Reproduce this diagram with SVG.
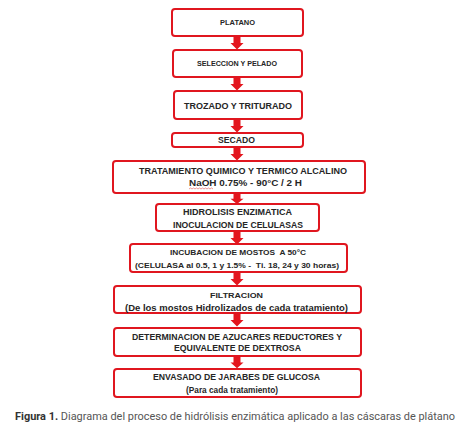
<svg xmlns="http://www.w3.org/2000/svg" xmlns:xlink="http://www.w3.org/1999/xlink" width="474" height="442" viewBox="0 0 474 442">
<style>
.box{fill:#fff;stroke:#e0161f;stroke-width:2}
.t{font-family:"Liberation Sans",Arial,sans-serif;font-weight:bold;fill:#262626;text-anchor:middle}
.arr{fill:#e3161e}
.cap{font-family:Roboto,"Liberation Sans",sans-serif;font-size:10.8px;fill:#555}
</style>
<defs>
<path id="arrow" d="M-3.5,0 H3.5 V6 H6.5 L0,12.5 L-6.5,6 H-3.5 Z"/>
</defs>
<rect width="474" height="442" fill="#fff"/>
<g id="connectors" class="arr">
<use xlink:href="#arrow" href="#arrow" transform="translate(237,37)"/>
<use xlink:href="#arrow" href="#arrow" transform="translate(237,78)"/>
<use xlink:href="#arrow" href="#arrow" transform="translate(237,120)"/>
<use xlink:href="#arrow" href="#arrow" transform="translate(237,148)"/>
<use xlink:href="#arrow" href="#arrow" transform="translate(237,194) scale(1,0.8)"/>
<use xlink:href="#arrow" href="#arrow" transform="translate(237,232)"/>
<use xlink:href="#arrow" href="#arrow" transform="translate(237,273)"/>
<use xlink:href="#arrow" href="#arrow" transform="translate(237,314)"/>
<use xlink:href="#arrow" href="#arrow" transform="translate(237,357) scale(1,0.9)"/>
</g>
<g id="platano">
<rect class="box" x="172" y="9" width="131" height="27" rx="3"/>
<text class="t" x="237.5" y="25" font-size="7.2" textLength="35" lengthAdjust="spacingAndGlyphs">PLATANO</text>
</g>
<g id="seleccion">
<rect class="box" x="173" y="50" width="129" height="27" rx="3"/>
<text class="t" x="237" y="66" font-size="7.2" textLength="80" lengthAdjust="spacingAndGlyphs">SELECCION Y PELADO</text>
</g>
<g id="trozado">
<rect class="box" x="174" y="91" width="128" height="28" rx="3"/>
<text class="t" x="238" y="108.5" font-size="9.6" textLength="108" lengthAdjust="spacingAndGlyphs">TROZADO Y TRITURADO</text>
</g>
<g id="secado">
<rect class="box" x="172" y="133" width="131" height="14" rx="3"/>
<text class="t" x="236.5" y="143.3" font-size="8.4" textLength="37" lengthAdjust="spacingAndGlyphs">SECADO</text>
</g>
<g id="tratamiento">
<rect class="box" x="113" y="161" width="252" height="32" rx="3"/>
<text class="t" x="243" y="173.8" font-size="8.6" textLength="208" lengthAdjust="spacingAndGlyphs">TRATAMIENTO QUIMICO Y TERMICO ALCALINO</text>
<text class="t" x="245.5" y="186.3" font-size="8.6" textLength="113" lengthAdjust="spacingAndGlyphs">NaOH 0.75% - 90°C / 2 H</text>
<path d="M189,189 l1.5,-1 l1.5,1 l1.5,-1 l1.5,1 l1.5,-1 l1.5,1 l1.5,-1 l1.5,1 l1.5,-1 l1.5,1 l1.5,-1 l1.5,1 l1.5,-1 l1.5,1 l1.5,-1 l1.5,1" fill="none" stroke="#e05050" stroke-width="0.6"/>
</g>
<g id="hidrolisis">
<rect class="box" x="156" y="204" width="163" height="27" rx="3"/>
<text class="t" x="237.5" y="214.8" font-size="8.2" textLength="109" lengthAdjust="spacingAndGlyphs">HIDROLISIS ENZIMATICA</text>
<text class="t" x="238" y="227.8" font-size="8.2" textLength="130" lengthAdjust="spacingAndGlyphs">INOCULACION DE CELULASAS</text>
</g>
<g id="incubacion">
<rect class="box" x="130" y="244" width="217" height="28" rx="3"/>
<text class="t" x="238" y="255.3" font-size="7.6" textLength="136" lengthAdjust="spacingAndGlyphs" xml:space="preserve">INCUBACION DE MOSTOS  A 50°C</text>
<text class="t" x="237" y="267.8" font-size="7.6" textLength="204" lengthAdjust="spacingAndGlyphs" xml:space="preserve">(CELULASA al 0.5, 1 y 1.5% -  Ti. 18, 24 y 30 horas)</text>
</g>
<g id="filtracion">
<rect class="box" x="114" y="286" width="247" height="27" rx="3"/>
<text class="t" x="236.5" y="297.8" font-size="7.8" textLength="53" lengthAdjust="spacingAndGlyphs">FILTRACION</text>
<text class="t" x="236.5" y="310.8" font-size="8.6" textLength="223" lengthAdjust="spacingAndGlyphs">(De los mostos Hidrolizados de cada tratamiento)</text>
</g>
<g id="determinacion">
<rect class="box" x="114" y="328" width="247" height="28" rx="3"/>
<text class="t" x="237" y="340.3" font-size="8.4" textLength="210" lengthAdjust="spacingAndGlyphs">DETERMINACION DE AZUCARES REDUCTORES Y</text>
<text class="t" x="237.5" y="351.3" font-size="8.4" textLength="127" lengthAdjust="spacingAndGlyphs">EQUIVALENTE DE DEXTROSA</text>
</g>
<g id="envasado">
<rect class="box" x="114" y="369" width="247" height="28" rx="3"/>
<text class="t" x="236.5" y="380.3" font-size="8.4" textLength="167" lengthAdjust="spacingAndGlyphs">ENVASADO DE JARABES DE GLUCOSA</text>
<text class="t" x="232" y="392.8" font-size="8.2" textLength="92" lengthAdjust="spacingAndGlyphs">(Para cada tratamiento)</text>
</g>
<text class="cap" x="15" y="420" textLength="440" lengthAdjust="spacingAndGlyphs"><tspan font-weight="bold" fill="#333">Figura 1.</tspan> Diagrama del proceso de hidrólisis enzimática aplicado a las cáscaras de plátano</text>
</svg>
